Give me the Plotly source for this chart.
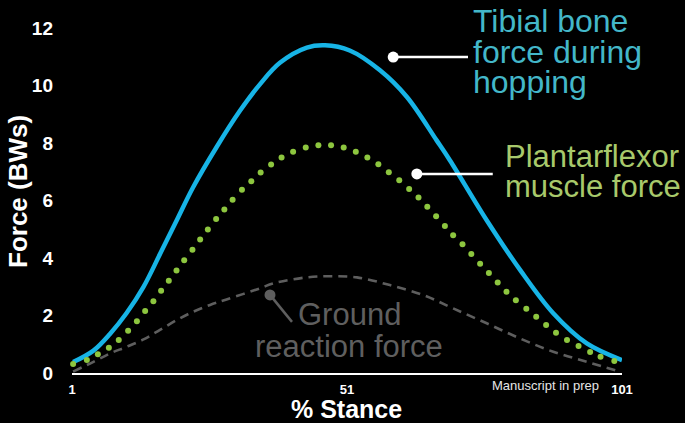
import plotly.graph_objects as go

# ---- data ----
tibial_x = [1.2, 4.9, 7.9, 10.9, 14.0, 17.0, 20.0, 23.0, 27.3, 31.5, 35.2, 38.8, 43.7, 47.0, 51.5, 57.0, 61.9, 67.3, 69.7, 76.4, 82.5, 88.5, 94.6, 101.0]
tibial_y = [0.38, 0.78, 1.36, 2.08, 3.00, 4.14, 5.30, 6.46, 7.87, 9.12, 10.06, 10.80, 11.33, 11.41, 11.23, 10.54, 9.61, 8.10, 7.41, 5.32, 3.58, 2.08, 1.03, 0.45]

plantar_x = [1.2, 3.7, 5.7, 7.7, 9.5, 11.2, 12.8, 14.3, 15.8, 17.2, 18.6, 20.0, 21.4, 22.9, 24.3, 25.7,
             27.2, 28.7, 30.2, 31.9, 33.6, 35.3, 37.2, 39.1, 41.2, 43.5, 45.8, 48.1, 50.4, 52.6,
             54.7, 56.7, 58.6, 60.5, 62.3, 64.0, 65.6, 67.2, 68.8, 70.3, 72.0, 73.6, 75.2, 76.8,
             78.4, 80.0, 81.7, 83.6, 85.4, 87.2, 89.0, 91.0, 93.1, 95.2, 97.1, 99.6]
plantar_y = [0.31, 0.45, 0.65, 0.88, 1.15, 1.47, 1.80, 2.16, 2.50, 2.86, 3.21, 3.57, 3.93, 4.29, 4.65, 5.00,
             5.36, 5.69, 6.03, 6.38, 6.68, 6.98, 7.26, 7.50, 7.70, 7.85, 7.93, 7.93, 7.85, 7.70,
             7.50, 7.27, 6.99, 6.71, 6.41, 6.11, 5.79, 5.46, 5.12, 4.80, 4.48, 4.14, 3.80, 3.48,
             3.15, 2.83, 2.53, 2.24, 1.96, 1.67, 1.40, 1.15, 0.94, 0.73, 0.57, 0.42]

grf_x = [1.2, 4.9, 7.9, 10.9, 14.0, 17.0, 20.0, 23.0, 26.1, 29.1, 35.2, 37.6, 43.7, 47.9, 52.8, 58.8, 64.9, 70.3, 76.4, 82.5, 88.5, 94.6, 100.6]
grf_y = [0.05, 0.39, 0.68, 0.91, 1.17, 1.50, 1.84, 2.13, 2.37, 2.56, 2.95, 3.12, 3.33, 3.37, 3.33, 3.06, 2.71, 2.25, 1.73, 1.20, 0.74, 0.39, 0.05]

x_ticks = [1, 51, 101]
x_tick_labels = ["1", "51", "101"]
y_ticks = [0, 2, 4, 6, 8, 10, 12]
y_tick_labels = ["0", "2", "4", "6", "8", "10", "12"]

# label pointers (dot position, line end) in data units
tib_ptr_x = [59.4, 73.0]
tib_ptr_y = [11.0, 11.0]
pf_ptr_x = [63.7, 77.5]
pf_ptr_y = [6.93, 6.93]
grf_ptr_x = [37.0, 41.0]
grf_ptr_y = [2.72, 1.78]

BLUE = "#17b4e6"
GREEN = "#8dc63f"
GRAY = "#5e5e5e"
TIB_TXT = "#43b7c9"
PF_TXT = "#a8c96b"
GRF_TXT = "#5f5f5f"
FONT = "Liberation Sans, Arial, sans-serif"

fig = go.Figure()

fig.add_trace(go.Scatter(x=grf_x, y=grf_y, mode="lines",
                         line=dict(color=GRAY, width=2.6, dash="9px,6px", shape="spline", smoothing=1),
                         cliponaxis=False, hoverinfo="skip"))
fig.add_trace(go.Scatter(x=tibial_x, y=tibial_y, mode="lines",
                         line=dict(color=BLUE, width=4.5, shape="spline", smoothing=1),
                         cliponaxis=False, hoverinfo="skip"))
fig.add_trace(go.Scatter(x=plantar_x, y=plantar_y, mode="markers",
                         marker=dict(color=GREEN, size=6, line=dict(width=0)),
                         cliponaxis=False, hoverinfo="skip"))

# pointer lines with dots
for px, py, col in [(tib_ptr_x, tib_ptr_y, "#ffffff"), (pf_ptr_x, pf_ptr_y, "#ffffff"), (grf_ptr_x, grf_ptr_y, GRAY)]:
    fig.add_trace(go.Scatter(x=px, y=py, mode="lines",
                             line=dict(color=col, width=2.5),
                             cliponaxis=False, hoverinfo="skip"))
    fig.add_trace(go.Scatter(x=px[:1], y=py[:1], mode="markers",
                             marker=dict(color=col, size=11, opacity=1, line=dict(width=0)),
                             cliponaxis=False, hoverinfo="skip"))

anns = []
def label(text, x, y, color, size=31, xanchor="left"):
    anns.append(dict(text=text, x=x, y=y, xref="x", yref="y", showarrow=False,
                     xanchor=xanchor, yanchor="middle",
                     font=dict(family=FONT, size=size, color=color)))

label("Tibial bone", 73.6, 12.25, TIB_TXT, size=32)
label("force during", 73.6, 11.17, TIB_TXT, size=32)
label("hopping", 73.6, 10.12, TIB_TXT, size=32)
label("Plantarflexor", 79.4, 7.53, PF_TXT)
label("muscle force", 79.4, 6.49, PF_TXT)
label("Ground", 51.4, 2.02, GRF_TXT, xanchor="center")
label("reaction force", 51.4, 0.92, GRF_TXT, xanchor="center")

anns.append(dict(text="Manuscript in prep", xref="paper", yref="paper", showarrow=False,
                 x=(545 - 72) / 550, y=(373 - 386) / 359, xanchor="center", yanchor="middle",
                 font=dict(family=FONT, size=13, color="#e6e6e6")))

anns.append(dict(text="<b>Force (BWs)</b>", textangle=-90, xref="paper", yref="paper",
                 x=(18 - 72) / 550, y=(373 - 192) / 359, showarrow=False,
                 xanchor="center", yanchor="middle",
                 font=dict(family=FONT, size=26, color="white")))
anns.append(dict(text="<b>% Stance</b>", xref="paper", yref="paper",
                 x=(346 - 72) / 550, y=(373 - 409) / 359, showarrow=False,
                 xanchor="center", yanchor="middle",
                 font=dict(family=FONT, size=25, color="white")))

fig.update_layout(
    width=685, height=423,
    margin=dict(l=72, r=63, t=14, b=50),
    paper_bgcolor="black", plot_bgcolor="black",
    showlegend=False,
    annotations=anns,
    xaxis=dict(range=[1, 101], showgrid=False, zeroline=False,
               showline=True, linecolor="white", linewidth=1.5,
               tickmode="array", tickvals=x_ticks, ticktext=x_tick_labels,
               ticks="", ticklabelstandoff=4,
               tickfont=dict(family=FONT, size=13, color="white", weight="bold")),
    yaxis=dict(range=[0, 12.5], showgrid=False, zeroline=False, showline=False,
               tickmode="array", tickvals=y_ticks, ticktext=y_tick_labels,
               ticks="", ticklabelstandoff=18,
               tickfont=dict(family=FONT, size=19, color="white", weight="bold")),
)

fig.write_html("out.html",
               config={"displayModeBar": False},
               post_script="document.body.style.margin='0';document.body.style.background='black';"
                           "document.documentElement.style.background='black';")
